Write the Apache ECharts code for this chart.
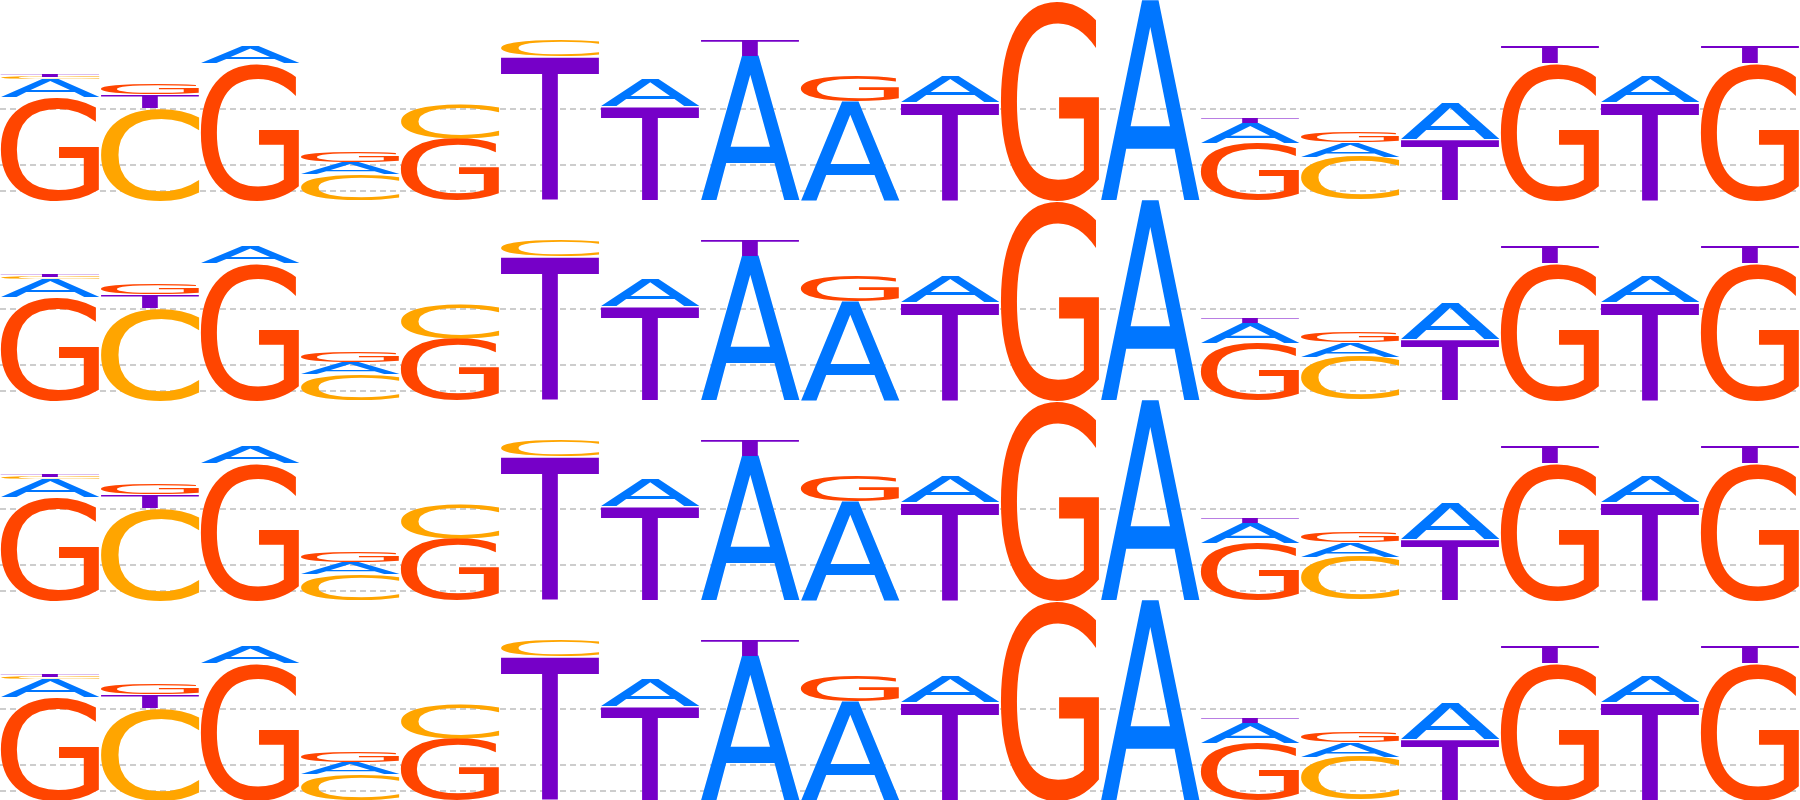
<!DOCTYPE html>
<html>
<head>
<meta charset="utf-8">
<title>Sequence logo</title>
<script src="https://cdn.jsdelivr.net/npm/echarts@6/dist/echarts.min.js"></script>
<style>
  html, body { margin: 0; padding: 0; background: #fff; }
  #logo { width: 1800px; height: 800px; }
</style>
</head>
<body>
<div id="logo"></div>
<script>
//--------------------- Data ---------------------------//
const positions = ['1', '2', '3', '4', '5', '6', '7', '8', '9', '10', '11', '12', '13', '14', '15', '16', '17', '18'];
const letters = ['A', 'C', 'G', 'T'];

// letter heights in bits per position
const bitsA = [0.177, 0, 0.167, 0.117, 0, 0, 0.27, 1.44, 0.983, 0.26, 0, 2.0, 0.2, 0.143, 0.363, 0, 0.26, 0];
const bitsC = [0.025, 0.925, 0, 0.26, 0.343, 0.16, 0, 0, 0, 0, 0, 0, 0, 0.433, 0, 0, 0, 0];
const bitsG = [1.033, 0.105, 1.373, 0.113, 0.617, 0, 0, 0, 0.257, 0, 2.0, 0, 0.573, 0.113, 0, 1.373, 0, 1.373];
const bitsT = [0.023, 0.13, 0, 0, 0, 1.44, 0.94, 0.16, 0, 0.98, 0, 0, 0.053, 0, 0.61, 0.167, 0.98, 0.167];

// dashed guide lines (bits)
const guideLevels = [0.09, 0.353, 0.907];

const rowCount = 4;
const yMax = 2;

//--------------------- Style ---------------------------//
const letterColors = { A: '#0076ff', C: '#ffa500', G: '#ff4500', T: '#7600c8' };
const FONT = '100px "DejaVu Sans"';

//--------------------- Functions ---------------------------//
// Measure the ink box of each glyph, relative to a left / middle anchor
function measureGlyphs() {
  const ctx = document.createElement('canvas').getContext('2d');
  ctx.font = FONT;
  ctx.textAlign = 'left';
  ctx.textBaseline = 'middle';
  const boxes = {};
  letters.forEach((ch) => {
    const m = ctx.measureText(ch);
    const left = -m.actualBoundingBoxLeft;
    const right = m.actualBoundingBoxRight;
    const top = -m.actualBoundingBoxAscent;
    const bottom = m.actualBoundingBoxDescent;
    boxes[ch] = { left: left, top: top, w: right - left, h: bottom - top };
  });
  return boxes;
}

// Stack letters per position: biggest at the bottom
function buildStacks() {
  const cols = { A: bitsA, C: bitsC, G: bitsG, T: bitsT };
  const items = [];
  positions.forEach((p, i) => {
    const col = letters
      .map((ch, k) => ({ k: k, h: cols[ch][i] }))
      .filter((d) => d.h > 0)
      .sort((a, b) => b.h - a.h);
    let base = 0;
    col.forEach((d) => {
      items.push([i, base, base + d.h, d.k]);
      base += d.h;
    });
  });
  return items;
}

const glyphBox = measureGlyphs();

function renderLetter(params, api) {
  const pos = api.value(0);
  const ch = letters[api.value(3)];
  const bottom = api.coord([pos, api.value(1)]);
  const top = api.coord([pos, api.value(2)]);
  const bandW = api.size([1, 0])[0];
  const xL = bottom[0] - bandW / 2;
  const hPx = bottom[1] - top[1];
  if (hPx <= 0) return;
  const g = glyphBox[ch];
  const sx = bandW / g.w;
  const sy = hPx / g.h;
  return {
    type: 'text',
    x: xL - sx * g.left,
    y: top[1] - sy * g.top,
    scaleX: sx,
    scaleY: sy,
    style: {
      text: ch,
      x: 0,
      y: 0,
      font: FONT,
      fill: letterColors[ch],
      align: 'left',
      verticalAlign: 'middle',
      textAlign: 'left',
      textVerticalAlign: 'middle'
    }
  };
}

//--------------------- Main ---------------------------//
const stackData = buildStacks();
const grids = [], xAxes = [], yAxes = [], series = [];

for (let r = 0; r < rowCount; r++) {
  grids.push({ left: 0, right: 0, top: r * 200, height: 200 });
  xAxes.push({ type: 'category', gridIndex: r, data: positions, show: false, boundaryGap: true });
  yAxes.push({ type: 'value', gridIndex: r, min: 0, max: yMax, show: false });

  // dashed guide lines under the letters
  series.push({
    type: 'line',
    xAxisIndex: r,
    yAxisIndex: r,
    data: [],
    z: 1,
    silent: true,
    markLine: {
      z: 1,
      silent: true,
      symbol: 'none',
      animation: false,
      label: { show: false },
      lineStyle: { color: '#bdbdbd', width: 1.5, type: [6, 4] },
      data: guideLevels.map((v) => ({ yAxis: v }))
    }
  });

  series.push({
    type: 'custom',
    xAxisIndex: r,
    yAxisIndex: r,
    z: 10,
    silent: true,
    clip: false,
    renderItem: renderLetter,
    data: stackData
  });
}

const chart = echarts.init(document.getElementById('logo'));
chart.setOption({
  animation: false,
  backgroundColor: '#fff',
  grid: grids,
  xAxis: xAxes,
  yAxis: yAxes,
  series: series
});
</script>
</body>
</html>
